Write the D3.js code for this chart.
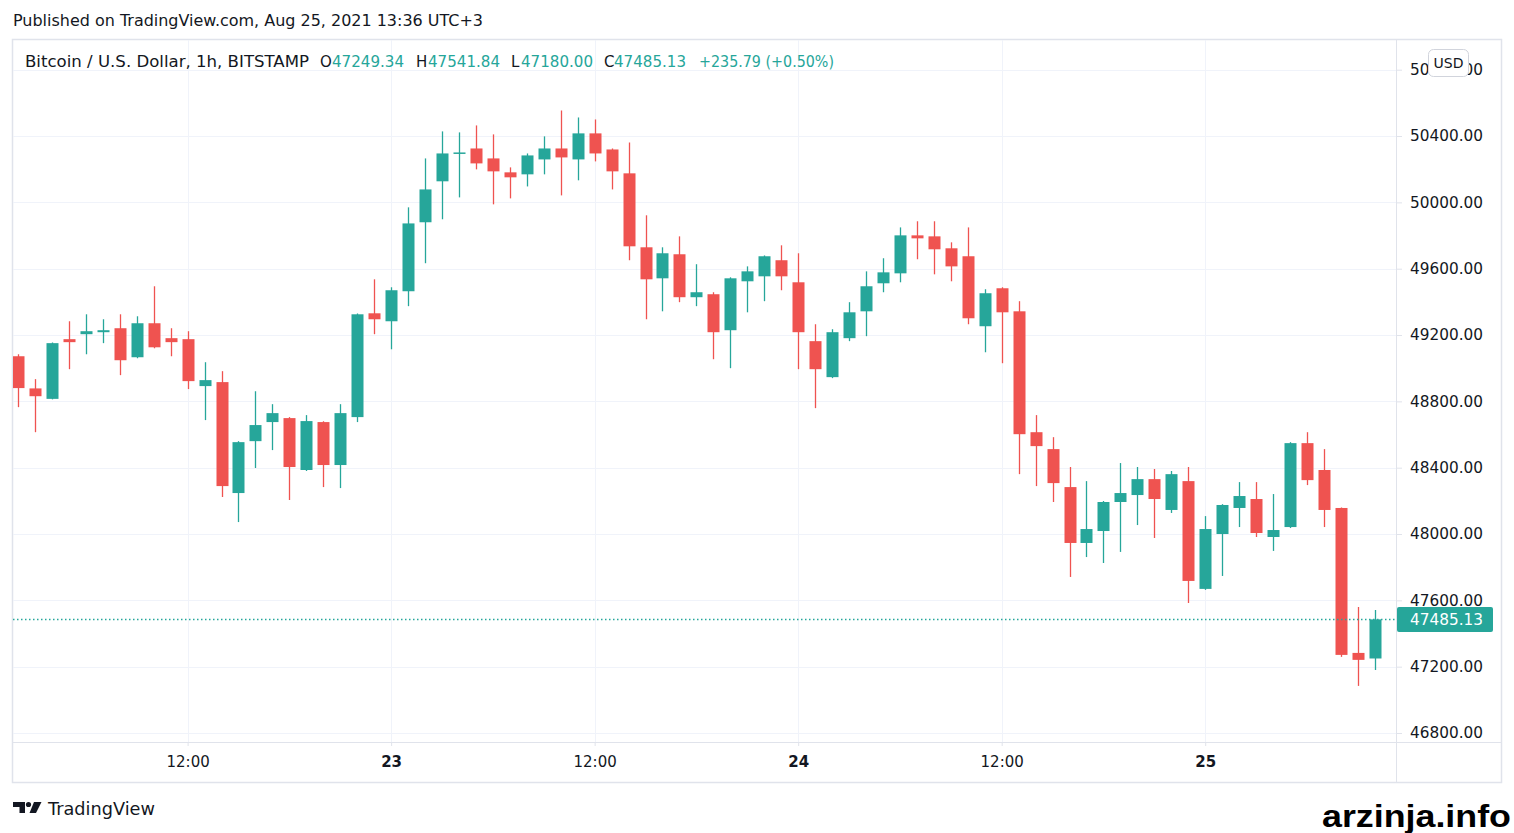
<!DOCTYPE html>
<html>
<head>
<meta charset="utf-8">
<script src="https://cdn.jsdelivr.net/npm/d3@7"></script>
<style>
  body { margin: 0; background: #ffffff; }
  svg { display: block; }
  text { font-family: "DejaVu Sans", "Noto Sans", sans-serif; }
</style>
</head>
<body>
<svg id="chart" width="1514" height="833"></svg>
<script>
// ---------- DATA ----------
const firstBar = "2021-08-22T02:00:00Z";   // 1h bars, BITSTAMP, UTC+3 display time
const opens = [49072,48878,48815,49175,49205,49217,49241,49066,49271,49181,49175,48892,48916,48247,48560,48675,48699,48386,48675,48416,
  48705,49331,49283,49464,49880,50127,50295,50325,50265,50181,50169,50259,50325,50259,50416,50319,50175,49729,49542,49687,
  49428,49446,49229,49524,49554,49651,49518,49163,48946,49181,49343,49512,49572,49801,49795,49723,49675,49253,49482,49343,
  48614,48512,48283,47946,48018,48193,48235,48331,48145,48319,47669,48000,48157,48211,47982,48042,48548,48386,48157,47283,47249.34];
const highs = [49084,48934,49155,49283,49325,49295,49325,49313,49494,49241,49223,49036,48982,48560,48861,48783,48705,48717,48680,48783,
  49330,49536,49488,49970,50265,50428,50422,50464,50410,50211,50295,50398,50554,50512,50500,50325,50361,49922,49729,49795,
  49627,49458,49548,49614,49680,49741,49693,49265,49235,49398,49584,49663,49849,49886,49886,49759,49849,49476,49488,49404,
  48717,48584,48404,48319,48199,48428,48404,48392,48380,48404,48108,48180,48313,48313,48241,48554,48614,48512,48160,47560,47541.84];
const lows = [48765,48614,48812,48994,49084,49151,48958,49060,49120,49072,48874,48687,48223,48072,48398,48506,48205,48380,48283,48277,
  48675,49205,49114,49374,49633,49898,50030,50199,49988,50024,50096,50169,50042,50133,50247,50078,49651,49295,49343,49398,
  49374,49054,49000,49337,49404,49470,48994,48759,48940,49163,49193,49458,49518,49657,49566,49524,49265,49096,49030,48361,
  48289,48193,47741,47861,47825,47892,48054,47976,48127,47584,47663,47747,48042,47982,47898,48036,48295,48042,47259,47084,47180.00];
const closes = [48880,48831,49151,49157,49223,49229,49048,49271,49126,49157,48922,48928,48289,48554,48657,48729,48404,48681,48416,48729,
  49325,49295,49470,49873,50078,50295,50301,50235,50187,50151,50283,50325,50271,50416,50295,50187,49735,49536,49693,49428,
  49458,49217,49542,49584,49675,49554,49217,48994,49217,49337,49494,49578,49801,49783,49717,49614,49301,49452,49337,48602,
  48530,48307,47946,48030,48193,48247,48331,48211,48361,47717,48030,48175,48229,48006,48024,48548,48325,48145,47271,47241,47485.13];

const priceTicks = [46800,47200,47600,48000,48400,48800,49200,49600,50000,50400,50800];
const timeTicks = ["2021-08-22T12:00:00Z","2021-08-23T00:00:00Z","2021-08-23T12:00:00Z","2021-08-24T00:00:00Z","2021-08-24T12:00:00Z","2021-08-25T00:00:00Z"];
const timeTickLabels = ["12:00","23","12:00","24","12:00","25"];

const headerText = "Published on TradingView.com, Aug 25, 2021 13:36 UTC+3";
const symbolText = "Bitcoin / U.S. Dollar, 1h, BITSTAMP";
const lastChange = "+235.79 (+0.50%)";

// ---------- LAYOUT ----------
const UP = "#26a69a", DOWN = "#ef5350", TXT = "#131722", GRID = "#f0f3fa", BORDER = "#e0e3eb";
const plot = { left: 13, right: 1396, top: 40, bottom: 742 };

const svg = d3.select("#chart");
const t0 = new Date(firstBar);
const bars = opens.map((o, i) => ({
  t: d3.utcHour.offset(t0, i), o, h: highs[i], l: lows[i], c: closes[i]
}));

const x = d3.scaleUtc()
  .domain([bars[0].t, bars[bars.length - 1].t])
  .range([18, 1374.8]);
const y = d3.scaleLinear().domain([46800, 50800]).range([733, 69.7]);

// outer frame
svg.append("rect").attr("x", 12.5).attr("y", 39.5).attr("width", 1489).attr("height", 743)
  .attr("fill", "#fff").attr("stroke", BORDER).attr("stroke-width", 1.5);

// grid
const grid = svg.append("g");
grid.selectAll(".hg").data(priceTicks).join("line")
  .attr("x1", plot.left).attr("x2", plot.right)
  .attr("y1", d => Math.round(y(d)) + 0.5).attr("y2", d => Math.round(y(d)) + 0.5)
  .attr("stroke", GRID).attr("stroke-width", 1);
grid.selectAll(".vg").data(timeTicks).join("line")
  .attr("x1", d => Math.round(x(new Date(d))) + 0.5).attr("x2", d => Math.round(x(new Date(d))) + 0.5)
  .attr("y1", plot.top).attr("y2", plot.bottom)
  .attr("stroke", GRID).attr("stroke-width", 1);

// axes separators
svg.append("line").attr("x1", 13).attr("x2", 1501).attr("y1", 742.5).attr("y2", 742.5).attr("stroke", BORDER);
svg.append("line").attr("x1", 1396.5).attr("x2", 1396.5).attr("y1", 40).attr("y2", 782).attr("stroke", BORDER);

// candles
svg.append("clipPath").attr("id", "clip").append("rect")
  .attr("x", plot.left).attr("y", plot.top).attr("width", plot.right - plot.left).attr("height", plot.bottom - plot.top);
const cg = svg.append("g").attr("clip-path", "url(#clip)");
const bodyW = 12;
const candle = cg.selectAll("g.candle").data(bars).join("g").attr("class", "candle");
candle.append("line")
  .attr("x1", d => Math.round(x(d.t)) + 0.5).attr("x2", d => Math.round(x(d.t)) + 0.5)
  .attr("y1", d => y(d.h)).attr("y2", d => y(d.l))
  .attr("stroke", d => d.c >= d.o ? UP : DOWN).attr("stroke-width", 1.3);
candle.append("rect")
  .attr("x", d => Math.round(x(d.t)) + 0.5 - bodyW / 2)
  .attr("width", bodyW)
  .attr("y", d => y(Math.max(d.o, d.c)))
  .attr("height", d => Math.max(1.5, Math.abs(y(d.o) - y(d.c))))
  .attr("fill", d => d.c >= d.o ? UP : DOWN);

// last price dotted line
const last = bars[bars.length - 1];
svg.append("line").attr("x1", plot.left).attr("x2", plot.right)
  .attr("y1", Math.round(y(last.c)) + 0.5).attr("y2", Math.round(y(last.c)) + 0.5)
  .attr("stroke", UP).attr("stroke-width", 1.3).attr("stroke-dasharray", "1.5,2.5");

// price axis
const yAxis = d3.axisRight(y).tickValues(priceTicks).tickFormat(d => d.toFixed(2)).tickSize(5).tickPadding(8);
const ya = svg.append("g").attr("transform", "translate(1397,0)").call(yAxis);
ya.select(".domain").remove();
ya.selectAll(".tick line").attr("stroke", BORDER);
ya.selectAll(".tick text").attr("fill", TXT).style("font-size", "15px").style("font-family", '"DejaVu Sans", sans-serif')
  .attr("textLength", 73).attr("lengthAdjust", "spacingAndGlyphs");

// time axis
const xAxis = d3.axisBottom(x).tickValues(timeTicks.map(d => new Date(d)))
  .tickFormat((d, i) => timeTickLabels[i]).tickSize(4).tickPadding(10);
const xa = svg.append("g").attr("transform", "translate(0,742)").call(xAxis);
xa.select(".domain").remove();
xa.selectAll(".tick line").attr("stroke", BORDER);
xa.selectAll(".tick text").attr("fill", TXT).style("font-size", "15px")
  .style("font-family", '"DejaVu Sans", sans-serif')
  .style("font-weight", (d, i) => timeTickLabels[i].includes(":") ? "normal" : "bold");

// last price label box
const ly = y(last.c);
svg.append("rect").attr("x", 1397).attr("y", ly - 12.5).attr("width", 96).attr("height", 25).attr("rx", 2).attr("fill", UP);
svg.append("text").attr("x", 1410).attr("y", ly + 5.5).attr("fill", "#fff").style("font-size", "15px")
  .attr("textLength", 73).attr("lengthAdjust", "spacingAndGlyphs")
  .text(last.c.toFixed(2));

// USD badge (sits over the top price label, as in the reference)
svg.append("rect").attr("x", 1428.5).attr("y", 49.5).attr("width", 40).attr("height", 27).attr("rx", 5)
  .attr("fill", "#fff").attr("stroke", "#d1d4dc");
svg.append("text").attr("x", 1448.5).attr("y", 68).attr("text-anchor", "middle").attr("fill", TXT)
  .style("font-size", "14px").text("USD");

// header
svg.append("text").attr("x", 13).attr("y", 26).attr("fill", TXT).style("font-size", "16px")
  .attr("textLength", 470).attr("lengthAdjust", "spacingAndGlyphs").text(headerText);

// legend
const lg = svg.append("g").style("font-size", "15px");
lg.append("text").attr("x", 25).attr("y", 67).attr("fill", TXT)
  .attr("textLength", 284).attr("lengthAdjust", "spacingAndGlyphs").text(symbolText);
const legendItems = [
  { k: "O", v: last.o, kx: 320, vx: 332 },
  { k: "H", v: last.h, kx: 416, vx: 428 },
  { k: "L", v: last.l, kx: 511, vx: 521 },
  { k: "C", v: last.c, kx: 604, vx: 614 }
];
legendItems.forEach(it => {
  lg.append("text").attr("x", it.kx).attr("y", 67).attr("fill", TXT).text(it.k);
  lg.append("text").attr("x", it.vx).attr("y", 67).attr("fill", UP)
    .attr("textLength", 72).attr("lengthAdjust", "spacingAndGlyphs").text(it.v.toFixed(2));
});
lg.append("text").attr("x", 699).attr("y", 67).attr("fill", UP)
  .attr("textLength", 135).attr("lengthAdjust", "spacingAndGlyphs").text(lastChange);

// TradingView logo (footer)
const logo = svg.append("g").attr("fill", TXT);
logo.append("path").attr("d", "M13,802 H25 V813 H19.5 V807 H13 Z");
logo.append("circle").attr("cx", 28.5).attr("cy", 804.5).attr("r", 2.6);
logo.append("path").attr("d", "M34,802 H41.5 L36,813 H29.5 Z");
svg.append("text").attr("x", 48).attr("y", 815).attr("fill", TXT).style("font-size", "18px")
  .attr("textLength", 107).attr("lengthAdjust", "spacingAndGlyphs").text("TradingView");

// watermark
svg.append("text").attr("x", 1322).attr("y", 827).attr("fill", "#000")
  .style("font-family", '"Liberation Sans", Arial, sans-serif').style("font-weight", "bold").style("font-size", "31px")
  .attr("textLength", 189).attr("lengthAdjust", "spacingAndGlyphs").text("arzinja.info");
</script>
</body>
</html>
